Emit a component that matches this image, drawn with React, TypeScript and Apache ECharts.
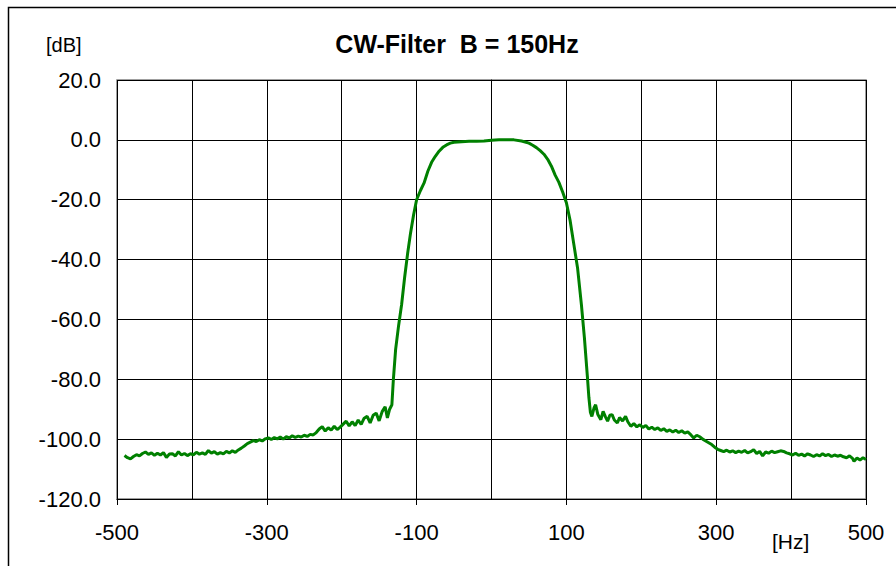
import React, { useEffect, useRef } from "react";
import * as echarts from "echarts";

const xLabelValues = [-500, -300, -100, 100, 300, 500];
const yMin = -120;
const yMax = 20;

// Frequency [Hz]
const freq = [
  -490, -486, -482, -478, -474, -470, -466, -462, -458, -454, -450, -446, -442, -438, -434, -430,
  -426, -422, -418, -414, -410, -406, -402, -398, -394, -390, -386, -382, -378, -374, -370, -366,
  -362, -358, -354, -350, -346, -342, -338, -334, -330, -326, -322, -318, -314, -310, -306, -302,
  -298, -294, -290, -286, -282, -278, -274, -270, -266, -262, -258, -254, -250, -246, -242, -238,
  -234, -230, -226, -222, -218, -214, -210, -206, -202, -198, -194, -190, -186, -182, -178, -174,
  -170, -166, -162, -158, -154, -150, -146, -142, -139, -136, -133, -131, -128, -124, -120, -116,
  -112, -108, -104, -100, -95, -90, -85, -80, -75, -70, -65, -60, -55, -50, -40, -30, -20, -10, 0,
  10, 20, 30, 40, 45, 50, 55, 60, 65, 70, 75, 80, 85, 90, 95, 100, 105, 110, 115, 120, 124, 128, 130,
  132, 134, 137, 139, 142, 146, 149, 152, 155, 158, 161, 164, 168, 171, 175, 179, 182, 186, 190, 194,
  198, 202, 206, 210, 214, 218, 222, 226, 230, 234, 238, 242, 246, 250, 254, 258, 262, 266, 270, 274,
  278, 282, 286, 290, 294, 298, 302, 306, 310, 314, 318, 322, 326, 330, 334, 338, 342, 346, 350, 354,
  358, 362, 366, 370, 374, 378, 382, 386, 390, 394, 398, 402, 406, 410, 414, 418, 422, 426, 430, 434,
  438, 442, 446, 450, 454, 458, 462, 466, 470, 474, 478, 482, 484, 488, 492, 496, 500,
];

// Attenuation [dB]
const level = [
  -105.5, -106.2, -106.6, -105.8, -105.2, -105.6, -104.8, -104.3, -105.1, -104.6, -105.4, -104.7, -105.3, -104.5, -106.1, -105.0,
  -104.9, -105.6, -104.2, -105.3, -104.8, -105.5, -104.9, -105.2, -104.4, -105.0, -104.6, -105.1, -103.8, -104.7, -104.2, -105.0,
  -104.5, -104.9, -104.1, -104.6, -103.9, -104.4, -103.6, -103.0, -102.3, -101.5, -101.0, -100.5, -100.8, -100.2, -100.6, -99.9,
  -99.6, -100.1, -99.5, -99.9, -99.3, -100.0, -99.2, -99.6, -98.9, -99.4, -99.0, -99.3, -98.7, -99.1, -98.4, -98.6,
  -97.8, -96.6, -95.8, -97.3, -96.2, -97.0, -95.7, -96.8, -96.0, -95.0, -94.0, -95.6, -94.2, -95.5, -93.6, -95.1,
  -93.0, -92.4, -94.6, -92.0, -91.3, -93.9, -90.8, -89.2, -92.9, -90.0, -88.5, -80.0, -70.0, -62.0, -55.0, -46.0,
  -38.0, -31.0, -25.0, -20.0, -17.0, -14.4, -10.5, -7.5, -5.5, -3.8, -2.5, -1.7, -1.1, -0.8, -0.6, -0.5, -0.5, -0.4, -0.1,
  0.0, 0.0, 0.0, -0.4, -0.7, -1.1, -1.8, -2.6, -3.6, -4.8, -6.5, -8.8, -11.8, -14.2, -17.4, -21.0, -27.0, -35.0, -43.0, -55.0, -66.0, -79.0, -86.0,
  -91.0, -92.4, -89.5, -88.5, -91.8, -93.5, -90.7, -92.5, -94.0, -92.0, -91.8, -93.6, -94.6, -92.8, -93.9, -92.4, -94.2, -95.7, -94.8, -95.9,
  -95.2, -96.1, -95.4, -96.6, -96.0, -96.8, -96.2, -97.1, -96.5, -97.4, -96.9, -97.6, -97.0, -97.8, -97.2, -98.0, -97.6, -98.5, -99.6, -98.7,
  -99.2, -100.0, -100.6, -101.2, -101.8, -102.7, -103.4, -103.8, -104.2, -103.7, -104.3, -103.9, -104.5, -104.0, -104.4, -103.8, -104.6, -104.2, -103.5, -104.8,
  -104.1, -105.6, -104.3, -104.7, -104.0, -104.5, -104.2, -103.9, -104.1, -104.6, -104.9, -105.3, -104.7, -105.4, -105.0, -105.6, -104.9, -105.3, -105.8, -105.2,
  -105.6, -104.9, -105.5, -105.1, -105.8, -105.3, -105.7, -105.4, -105.9, -106.2, -105.6, -106.4, -107.4, -106.3, -107.0, -106.2, -106.8,
];

const FONT = "'Liberation Sans', Arial, sans-serif";

export default function App() {
  const ref = useRef<HTMLDivElement>(null);

  useEffect(() => {
    document.body.style.margin = "0";
    if (!ref.current) return;
    const chart = echarts.init(ref.current, null, { renderer: "svg" });
    const data = freq.map((f, i) => [f, level[i]]);
    chart.setOption({
      animation: false,
      backgroundColor: "#ffffff",
      grid: {
        left: 117,
        right: 30,
        top: 80,
        bottom: 67,
        show: true,
        borderColor: "#808080",
        borderWidth: 1.5,
      },
      graphic: [
        {
          type: "rect",
          shape: { x: 8.5, y: 7.5, width: 1000, height: 1000 },
          style: { fill: "none", stroke: "#000", lineWidth: 1.5 },
          silent: true,
        },
        {
          type: "text",
          x: 457,
          y: 44,
          style: {
            text: "CW-Filter  B = 150Hz",
            font: `bold 25px ${FONT}`,
            fill: "#000",
            textAlign: "center",
            textVerticalAlign: "middle",
          },
        },
        {
          type: "text",
          x: 46,
          y: 45,
          style: {
            text: "[dB]",
            font: `20px ${FONT}`,
            fill: "#000",
            textAlign: "left",
            textVerticalAlign: "middle",
          },
        },
        {
          type: "text",
          x: 772,
          y: 541,
          style: {
            text: "[Hz]",
            font: `21px ${FONT}`,
            fill: "#000",
            textAlign: "left",
            textVerticalAlign: "middle",
          },
        },
      ],
      xAxis: [
        {
          type: "value",
          min: -500,
          max: 500,
          interval: 100,
          position: "bottom",
          axisLine: { show: false, onZero: false },
          axisTick: { show: false },
          axisLabel: { show: false },
          splitLine: { show: true, lineStyle: { color: "#000", width: 1 } },
        },
        {
          type: "value",
          min: -500,
          max: 500,
          interval: 100,
          position: "bottom",
          offset: 0,
          axisLine: { show: true, onZero: false, lineStyle: { color: "#000", width: 1 } },
          axisTick: {
            show: true,
            length: 6,
            inside: false,
            customValues: xLabelValues,
            lineStyle: { color: "#000" },
          },
          axisLabel: {
            show: true,
            customValues: xLabelValues,
            margin: 22,
            color: "#000",
            fontSize: 22,
            fontFamily: FONT,
            formatter: (v: number) => String(v),
          },
          splitLine: { show: false },
        },
      ],
      yAxis: {
        type: "value",
        min: yMin,
        max: yMax,
        interval: 20,
        axisLine: { show: true, lineStyle: { color: "#000", width: 1 } },
        axisTick: { show: true, length: 6, lineStyle: { color: "#000" } },
        axisLabel: {
          margin: 16,
          color: "#000",
          fontSize: 22,
          fontFamily: FONT,
          formatter: (v: number) => v.toFixed(1),
        },
        splitLine: { show: true, lineStyle: { color: "#000", width: 1 } },
      },
      series: [
        {
          type: "line",
          xAxisIndex: 0,
          data,
          showSymbol: false,
          symbol: "none",
          lineStyle: { color: "#008000", width: 3 },
          z: 5,
        },
      ],
    });
    return () => chart.dispose();
  }, []);

  return (
    <div
      ref={ref}
      style={{ position: "absolute", left: 0, top: 0, width: 896, height: 566 }}
    />
  );
}
